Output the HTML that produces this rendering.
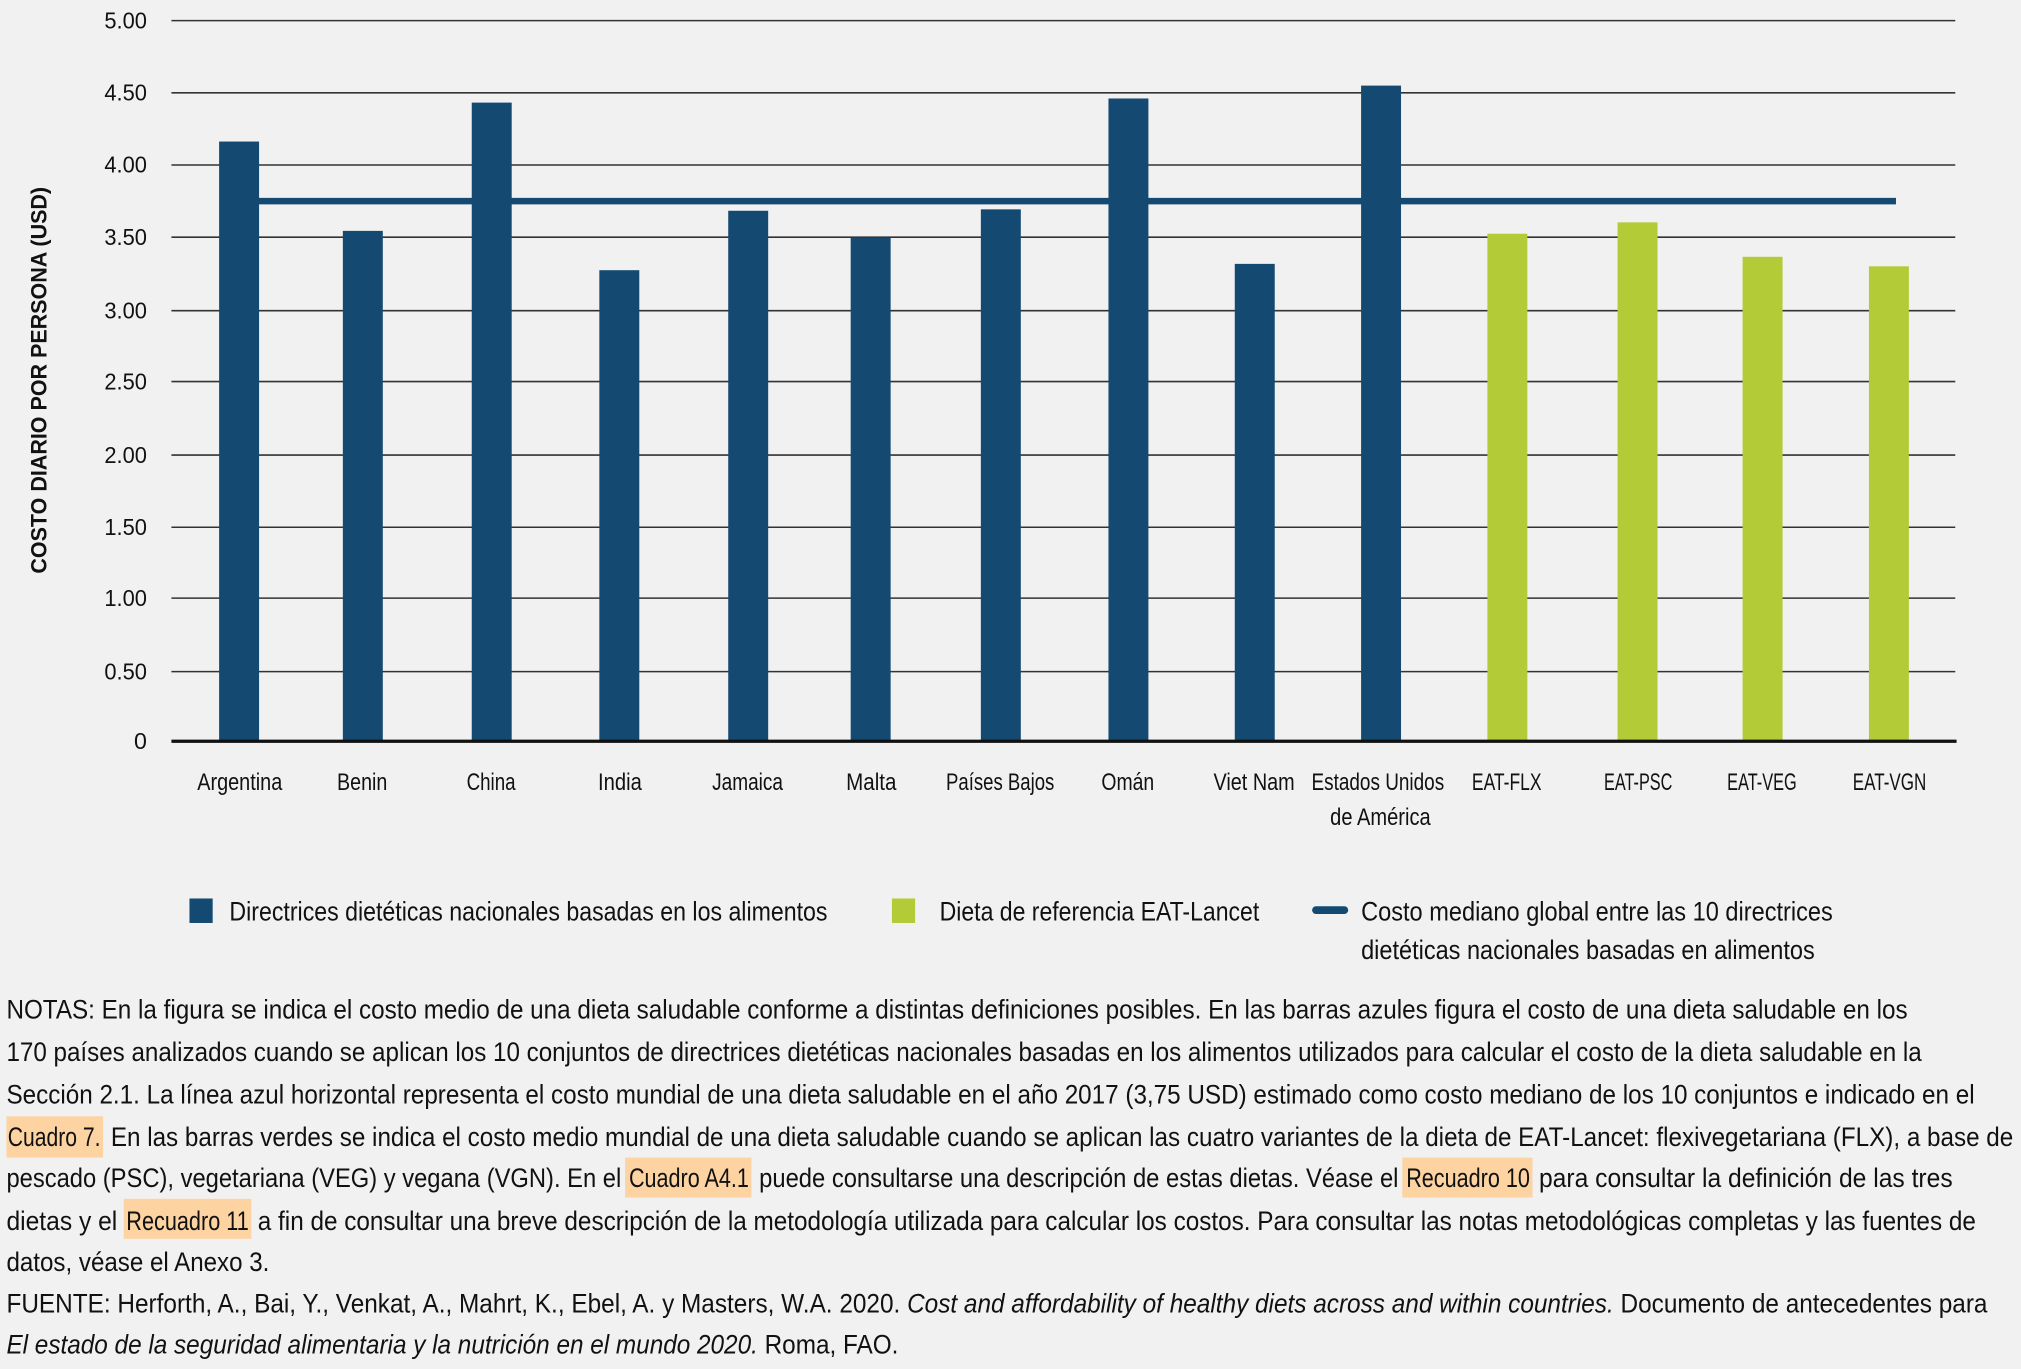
<!DOCTYPE html>
<html><head><meta charset="utf-8"><style>
html,body{margin:0;padding:0;background:#f1f1f1;}
svg{display:block;}
text{font-family:"Liberation Sans Narrow","Liberation Sans",sans-serif;fill:#111;}
</style></head><body>
<svg width="2021" height="1369" viewBox="0 0 1568 1062" preserveAspectRatio="none" xmlns="http://www.w3.org/2000/svg">
<rect width="1568" height="1062" fill="#f1f1f1"/>
<g stroke="#333" stroke-width="1.2">
<line x1="133" x2="1517" y1="16" y2="16"/>
<line x1="133" x2="1517" y1="72" y2="72"/>
<line x1="133" x2="1517" y1="128" y2="128"/>
<line x1="133" x2="1517" y1="184" y2="184"/>
<line x1="133" x2="1517" y1="241" y2="241"/>
<line x1="133" x2="1517" y1="296" y2="296"/>
<line x1="133" x2="1517" y1="353" y2="353"/>
<line x1="133" x2="1517" y1="409" y2="409"/>
<line x1="133" x2="1517" y1="464" y2="464"/>
<line x1="133" x2="1517" y1="521" y2="521"/>
</g>
<g font-size="18" text-anchor="end">
<text x="114" y="22" textLength="33" lengthAdjust="spacingAndGlyphs">5.00</text><text x="114" y="78" textLength="33" lengthAdjust="spacingAndGlyphs">4.50</text><text x="114" y="134" textLength="33" lengthAdjust="spacingAndGlyphs">4.00</text>
<text x="114" y="190" textLength="33" lengthAdjust="spacingAndGlyphs">3.50</text><text x="114" y="247" textLength="33" lengthAdjust="spacingAndGlyphs">3.00</text><text x="114" y="302" textLength="33" lengthAdjust="spacingAndGlyphs">2.50</text>
<text x="114" y="359" textLength="33" lengthAdjust="spacingAndGlyphs">2.00</text><text x="114" y="415" textLength="33" lengthAdjust="spacingAndGlyphs">1.50</text><text x="114" y="470" textLength="33" lengthAdjust="spacingAndGlyphs">1.00</text>
<text x="114" y="527" textLength="33" lengthAdjust="spacingAndGlyphs">0.50</text><text x="114" y="581">0</text>
</g>
<text transform="translate(36,295) rotate(-90)" text-anchor="middle" font-size="17" font-weight="bold" textLength="300" lengthAdjust="spacingAndGlyphs">COSTO DIARIO POR PERSONA (USD)</text>
<g fill="#144a72">
<rect x="170" y="109.8" width="31" height="465.2"/>
<rect x="266" y="179.1" width="31" height="395.9"/>
<rect x="366" y="79.6" width="31" height="495.4"/>
<rect x="465" y="209.6" width="31" height="365.4"/>
<rect x="565" y="163.5" width="31" height="411.5"/>
<rect x="660" y="184.5" width="31" height="390.5"/>
<rect x="761" y="162.4" width="31" height="412.6"/>
<rect x="860" y="76.4" width="31" height="498.6"/>
<rect x="958" y="204.7" width="31" height="370.3"/>
<rect x="1056" y="66.4" width="31" height="508.6"/>
</g>
<g fill="#b2cb36">
<rect x="1154" y="181.3" width="31" height="393.7"/>
<rect x="1255" y="172.5" width="31" height="402.5"/>
<rect x="1352" y="199.2" width="31" height="375.8"/>
<rect x="1450" y="206.6" width="31" height="368.4"/>
</g>
<line x1="185" x2="1471" y1="156" y2="156" stroke="#144a72" stroke-width="5"/>
<line x1="133" x2="1518" y1="575" y2="575" stroke="#111" stroke-width="2.5"/>
<g font-size="19" text-anchor="middle">
<text x="186" y="613" textLength="66" lengthAdjust="spacingAndGlyphs">Argentina</text>
<text x="281" y="613" textLength="39" lengthAdjust="spacingAndGlyphs">Benin</text>
<text x="381" y="613" textLength="38" lengthAdjust="spacingAndGlyphs">China</text>
<text x="481" y="613" textLength="34" lengthAdjust="spacingAndGlyphs">India</text>
<text x="580" y="613" textLength="55" lengthAdjust="spacingAndGlyphs">Jamaica</text>
<text x="676" y="613" textLength="39" lengthAdjust="spacingAndGlyphs">Malta</text>
<text x="776" y="613" textLength="84" lengthAdjust="spacingAndGlyphs">Países Bajos</text>
<text x="875" y="613" textLength="41" lengthAdjust="spacingAndGlyphs">Omán</text>
<text x="973" y="613" textLength="63" lengthAdjust="spacingAndGlyphs">Viet Nam</text>
<text x="1069" y="613" textLength="103" lengthAdjust="spacingAndGlyphs">Estados Unidos</text>
<text x="1071" y="640" textLength="78" lengthAdjust="spacingAndGlyphs">de América</text>
<text x="1169" y="613" textLength="54" lengthAdjust="spacingAndGlyphs">EAT-FLX</text>
<text x="1271" y="613" textLength="53" lengthAdjust="spacingAndGlyphs">EAT-PSC</text>
<text x="1367" y="613" textLength="54" lengthAdjust="spacingAndGlyphs">EAT-VEG</text>
<text x="1466" y="613" textLength="57" lengthAdjust="spacingAndGlyphs">EAT-VGN</text>
</g>
<rect x="147" y="697" width="18" height="19" fill="#144a72"/>
<text x="178" y="714" font-size="21" textLength="464" lengthAdjust="spacingAndGlyphs">Directrices dietéticas nacionales basadas en los alimentos</text>
<rect x="692" y="697" width="18" height="19" fill="#b2cb36"/>
<text x="729" y="714" font-size="21" textLength="248" lengthAdjust="spacingAndGlyphs">Dieta de referencia EAT-Lancet</text>
<line x1="1021" x2="1043" y1="706" y2="706" stroke="#144a72" stroke-width="6" stroke-linecap="round"/>
<text x="1056" y="714" font-size="21" textLength="366" lengthAdjust="spacingAndGlyphs">Costo mediano global entre las 10 directrices</text>
<text x="1056" y="744" font-size="21" textLength="352" lengthAdjust="spacingAndGlyphs">dietéticas nacionales basadas en alimentos</text>
<g fill="#fcd3a1">
<rect x="5" y="866" width="75" height="32"/>
<rect x="485" y="898" width="98" height="31"/>
<rect x="1088" y="898" width="101" height="31"/>
<rect x="96" y="930" width="99" height="31"/>
</g>
<g font-size="21">
<text x="5" y="790" textLength="1475" lengthAdjust="spacingAndGlyphs">NOTAS: En la figura se indica el costo medio de una dieta saludable conforme a distintas definiciones posibles. En las barras azules figura el costo de una dieta saludable en los</text>
<text x="5" y="823" textLength="1486" lengthAdjust="spacingAndGlyphs">170 países analizados cuando se aplican los 10 conjuntos de directrices dietéticas nacionales basadas en los alimentos utilizados para calcular el costo de la dieta saludable en la</text>
<text x="5" y="856" textLength="1527" lengthAdjust="spacingAndGlyphs">Sección 2.1. La línea azul horizontal representa el costo mundial de una dieta saludable en el año 2017 (3,75 USD) estimado como costo mediano de los 10 conjuntos e indicado en el</text>
<text x="6" y="889" textLength="72" lengthAdjust="spacingAndGlyphs">Cuadro 7.</text>
<text x="86" y="889" textLength="1476" lengthAdjust="spacingAndGlyphs">En las barras verdes se indica el costo medio mundial de una dieta saludable cuando se aplican las cuatro variantes de la dieta de EAT-Lancet: flexivegetariana (FLX), a base de</text>
<text x="5" y="921" textLength="477" lengthAdjust="spacingAndGlyphs">pescado (PSC), vegetariana (VEG) y vegana (VGN). En el</text>
<text x="488" y="921" textLength="93" lengthAdjust="spacingAndGlyphs">Cuadro A4.1</text>
<text x="589" y="921" textLength="496" lengthAdjust="spacingAndGlyphs">puede consultarse una descripción de estas dietas. Véase el</text>
<text x="1091" y="921" textLength="96" lengthAdjust="spacingAndGlyphs">Recuadro 10</text>
<text x="1194" y="921" textLength="321" lengthAdjust="spacingAndGlyphs">para consultar la definición de las tres</text>
<text x="5" y="954" textLength="86" lengthAdjust="spacingAndGlyphs">dietas y el</text>
<text x="98" y="954" textLength="95" lengthAdjust="spacingAndGlyphs">Recuadro 11</text>
<text x="200" y="954" textLength="1333" lengthAdjust="spacingAndGlyphs">a fin de consultar una breve descripción de la metodología utilizada para calcular los costos. Para consultar las notas metodológicas completas y las fuentes de</text>
<text x="5" y="986" textLength="204" lengthAdjust="spacingAndGlyphs">datos, véase el Anexo 3.</text>
<text x="5" y="1018" textLength="1537" lengthAdjust="spacingAndGlyphs">FUENTE: Herforth, A., Bai, Y., Venkat, A., Mahrt, K., Ebel, A. y Masters, W.A. 2020. <tspan font-style="italic">Cost and affordability of healthy diets across and within countries.</tspan> Documento de antecedentes para</text>
<text x="5" y="1050" textLength="692" lengthAdjust="spacingAndGlyphs"><tspan font-style="italic">El estado de la seguridad alimentaria y la nutrición en el mundo 2020.</tspan> Roma, FAO.</text>
</g>
</svg>
</body></html>
